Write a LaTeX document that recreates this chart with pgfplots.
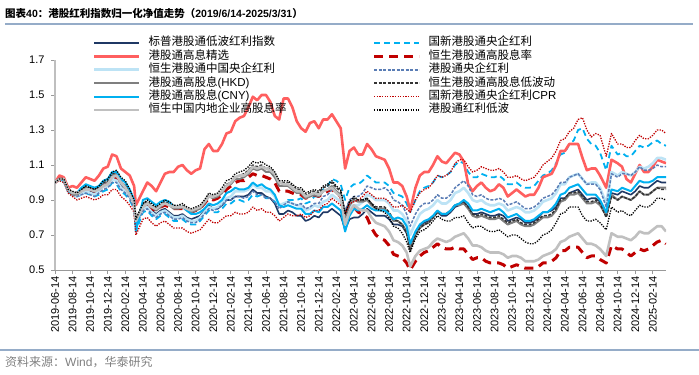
\documentclass[border=0pt]{standalone}
\usepackage{fontspec}
\setmainfont{Liberation Sans}
\newfontfamily\cjk{Noto Sans CJK SC}
\usepackage{pgfplots}
\usepackage{pgfplotstable}
\pgfplotsset{compat=1.18}
\definecolor{cNavy}{HTML}{1F3864}
\definecolor{cSalmon}{HTML}{FF5F5F}
\definecolor{cLtBlue}{HTML}{BDE3F5}
\definecolor{cGray}{HTML}{7F7F7F}
\definecolor{cBlue}{HTML}{00B0F0}
\definecolor{cLtGray}{HTML}{C0C0C0}
\definecolor{cDkRed}{HTML}{C00000}
\definecolor{cSteel}{HTML}{5A7DB5}
\definecolor{cDark}{HTML}{333333}
\definecolor{cRule}{HTML}{95ACC8}

\pgfplotstableread{
m A B C D E F G H I J K L
0 1.00 1.00 1.00 1.00 1.00 1.00 1.00 1.00 1.00 1.00 1.00 1.00
0.5 1.02 1.04 1.02 1.02 1.02 1.02 1.02 1.02 1.02 1.02 1.01 1.02
1 1.01 1.03 1.01 1.01 1.01 1.02 1.01 1.02 1.01 1.02 1.00 1.02
1.5 0.95 0.97 0.95 0.95 0.95 0.96 0.95 0.96 0.95 0.96 0.94 0.96
2 0.94 0.98 0.93 0.93 0.94 0.94 0.93 0.94 0.93 0.94 0.92 0.95
2.5 0.93 0.97 0.92 0.93 0.94 0.94 0.92 0.94 0.92 0.94 0.90 0.94
3 0.95 1.00 0.94 0.95 0.97 0.95 0.93 0.95 0.93 0.96 0.91 0.96
3.5 0.96 1.03 0.95 0.97 0.99 0.96 0.94 0.96 0.94 0.98 0.92 0.98
4 0.95 1.02 0.94 0.96 0.98 0.96 0.93 0.96 0.93 0.97 0.91 0.97
4.5 0.94 1.01 0.93 0.95 0.97 0.95 0.92 0.95 0.92 0.96 0.90 0.96
5 0.96 1.04 0.95 0.97 0.98 0.96 0.93 0.96 0.94 0.97 0.91 0.98
5.5 0.99 1.08 0.98 1.00 1.01 0.98 0.95 0.98 0.96 1.00 0.93 1.01
6 0.99 1.09 0.98 1.00 1.02 0.99 0.96 0.99 0.97 1.01 0.93 1.02
6.5 1.03 1.16 1.02 1.04 1.06 1.03 1.00 1.03 1.00 1.05 0.96 1.06
7 1.02 1.15 1.01 1.05 1.06 1.04 0.99 1.03 1.00 1.06 0.96 1.07
7.5 0.98 1.08 0.97 1.00 1.02 1.00 0.95 0.99 0.96 1.02 0.92 1.03
8 0.96 1.06 0.95 0.98 1.00 0.97 0.93 0.96 0.94 1.00 0.90 1.01
8.5 0.93 1.04 0.92 0.94 0.96 0.93 0.90 0.92 0.91 0.95 0.87 0.96
9 0.88 0.98 0.87 0.88 0.90 0.88 0.85 0.87 0.86 0.89 0.83 0.90
9.2 0.76 0.87 0.76 0.78 0.72 0.78 0.72 0.77 0.75 0.79 0.70 0.79
10 0.86 0.95 0.85 0.87 0.90 0.86 0.83 0.85 0.84 0.88 0.79 0.88
10.5 0.87 1.00 0.86 0.88 0.91 0.88 0.84 0.87 0.85 0.89 0.80 0.90
11 0.84 0.98 0.83 0.86 0.89 0.86 0.81 0.85 0.82 0.87 0.77 0.88
11.5 0.82 0.95 0.81 0.84 0.87 0.85 0.79 0.84 0.80 0.85 0.75 0.86
12 0.84 1.00 0.83 0.86 0.89 0.87 0.81 0.86 0.82 0.87 0.77 0.88
12.5 0.85 1.05 0.84 0.88 0.90 0.88 0.82 0.87 0.83 0.89 0.78 0.90
13 0.83 1.06 0.82 0.87 0.89 0.87 0.80 0.86 0.81 0.88 0.76 0.89
13.5 0.81 1.06 0.80 0.85 0.86 0.86 0.78 0.85 0.79 0.86 0.74 0.87
14 0.81 1.09 0.80 0.85 0.86 0.86 0.78 0.85 0.79 0.86 0.74 0.87
14.5 0.82 1.10 0.81 0.86 0.86 0.86 0.79 0.85 0.80 0.87 0.74 0.88
15 0.80 1.07 0.79 0.84 0.84 0.85 0.77 0.84 0.78 0.85 0.72 0.86
15.5 0.79 1.05 0.78 0.83 0.82 0.84 0.76 0.83 0.77 0.84 0.71 0.85
16 0.80 1.07 0.78 0.84 0.82 0.85 0.76 0.84 0.77 0.85 0.72 0.86
16.5 0.81 1.08 0.80 0.85 0.83 0.86 0.78 0.85 0.79 0.86 0.73 0.87
17 0.84 1.19 0.83 0.88 0.85 0.89 0.81 0.88 0.82 0.89 0.76 0.90
17.5 0.87 1.22 0.86 0.92 0.88 0.92 0.84 0.91 0.85 0.93 0.79 0.94
18 0.85 1.18 0.85 0.91 0.87 0.92 0.83 0.90 0.84 0.92 0.77 0.93
18.5 0.85 1.18 0.86 0.92 0.88 0.93 0.83 0.91 0.85 0.93 0.77 0.94
19 0.87 1.22 0.88 0.94 0.90 0.95 0.85 0.93 0.87 0.95 0.79 0.97
19.5 0.90 1.28 0.91 0.98 0.94 0.98 0.88 0.96 0.90 0.99 0.81 1.01
20 0.90 1.29 0.92 0.99 0.95 1.00 0.88 0.98 0.90 1.00 0.81 1.02
20.5 0.92 1.35 0.95 1.02 0.97 1.03 0.90 1.00 0.92 1.03 0.83 1.05
21 0.92 1.37 0.95 1.02 0.96 1.04 0.90 1.01 0.92 1.04 0.82 1.06
21.5 0.92 1.38 0.95 1.03 0.96 1.04 0.89 1.01 0.91 1.05 0.82 1.07
22 0.93 1.43 0.96 1.05 0.97 1.06 0.90 1.03 0.92 1.07 0.83 1.09
22.5 0.96 1.49 0.99 1.08 1.00 1.09 0.93 1.05 0.95 1.10 0.86 1.12
23 0.94 1.47 0.97 1.07 0.98 1.08 0.92 1.04 0.93 1.09 0.84 1.11
23.5 0.94 1.50 0.97 1.08 0.99 1.09 0.93 1.04 0.93 1.10 0.85 1.12
24 0.92 1.50 0.95 1.06 0.97 1.08 0.91 1.03 0.91 1.08 0.83 1.10
24.5 0.91 1.46 0.95 1.06 0.96 1.07 0.91 1.02 0.91 1.08 0.83 1.09
25 0.88 1.38 0.92 1.03 0.93 1.05 0.89 1.00 0.89 1.05 0.81 1.06
25.5 0.82 1.36 0.87 0.98 0.87 1.00 0.86 0.95 0.85 1.00 0.78 1.01
26 0.82 1.48 0.88 0.98 0.86 0.99 0.88 0.95 0.87 1.00 0.80 1.01
26.5 0.84 1.48 0.89 0.98 0.87 0.99 0.90 0.95 0.89 1.00 0.82 1.01
27 0.83 1.43 0.88 0.96 0.86 0.97 0.90 0.94 0.88 0.98 0.81 0.99
27.5 0.81 1.35 0.87 0.94 0.85 0.95 0.90 0.93 0.87 0.96 0.81 0.97
28 0.81 1.31 0.87 0.94 0.85 0.95 0.91 0.93 0.88 0.96 0.82 0.97
28.5 0.78 1.29 0.84 0.91 0.82 0.92 0.88 0.91 0.85 0.93 0.80 0.94
29 0.79 1.34 0.85 0.92 0.82 0.93 0.89 0.92 0.86 0.94 0.81 0.95
29.5 0.81 1.35 0.87 0.93 0.84 0.94 0.92 0.93 0.88 0.95 0.84 0.96
30 0.80 1.31 0.86 0.92 0.83 0.93 0.92 0.92 0.88 0.94 0.84 0.95
30.5 0.83 1.36 0.89 0.95 0.86 0.95 0.96 0.94 0.92 0.97 0.87 0.98
31 0.83 1.36 0.90 0.96 0.86 0.96 0.98 0.95 0.93 0.98 0.88 0.99
31.5 0.85 1.39 0.93 0.98 0.88 0.97 1.02 0.96 0.96 1.00 0.91 1.01
32 0.83 1.35 0.91 0.95 0.86 0.94 1.01 0.94 0.95 0.97 0.89 0.98
32.5 0.81 1.31 0.89 0.93 0.84 0.92 0.99 0.92 0.93 0.95 0.87 0.96
33 0.73 1.08 0.80 0.80 0.72 0.76 0.90 0.78 0.84 0.82 0.82 0.82
33.5 0.79 1.18 0.86 0.87 0.81 0.83 0.97 0.84 0.90 0.89 0.88 0.89
34 0.80 1.20 0.87 0.90 0.85 0.87 0.99 0.86 0.92 0.91 0.89 0.92
34.5 0.80 1.16 0.87 0.89 0.84 0.85 0.99 0.83 0.92 0.90 0.90 0.90
35 0.82 1.16 0.89 0.89 0.85 0.84 1.01 0.82 0.94 0.90 0.92 0.90
35.5 0.85 1.22 0.93 0.90 0.87 0.84 1.04 0.80 0.98 0.91 0.95 0.91
36 0.83 1.19 0.92 0.87 0.85 0.80 1.02 0.74 0.97 0.88 0.93 0.88
36.5 0.81 1.15 0.90 0.85 0.84 0.77 1.00 0.70 0.96 0.86 0.91 0.85
37 0.81 1.14 0.90 0.85 0.84 0.76 1.00 0.68 0.96 0.86 0.91 0.84
37.5 0.81 1.13 0.90 0.85 0.84 0.75 1.00 0.67 0.97 0.86 0.91 0.83
38 0.79 1.08 0.88 0.82 0.82 0.72 0.98 0.64 0.95 0.83 0.89 0.80
38.5 0.76 1.00 0.84 0.78 0.79 0.67 0.94 0.59 0.90 0.79 0.86 0.75
39 0.76 1.00 0.84 0.78 0.80 0.66 0.93 0.58 0.89 0.78 0.86 0.74
39.5 0.75 0.98 0.82 0.76 0.79 0.64 0.92 0.57 0.87 0.76 0.87 0.71
40 0.71 0.92 0.78 0.72 0.75 0.60 0.88 0.54 0.82 0.71 0.85 0.66
40.4 0.63 0.84 0.70 0.62 0.65 0.52 0.83 0.50 0.75 0.61 0.83 0.60
41 0.70 0.97 0.77 0.70 0.72 0.58 0.90 0.55 0.82 0.70 0.90 0.68
41.5 0.75 1.04 0.82 0.74 0.76 0.61 0.95 0.58 0.86 0.74 0.94 0.72
42 0.77 1.06 0.84 0.76 0.78 0.62 0.97 0.60 0.88 0.76 0.96 0.73
42.5 0.78 1.06 0.85 0.77 0.79 0.63 0.98 0.61 0.88 0.77 0.97 0.75
43 0.80 1.10 0.87 0.80 0.81 0.66 1.00 0.63 0.90 0.80 1.00 0.78
43.5 0.83 1.15 0.90 0.83 0.84 0.68 1.04 0.65 0.93 0.83 1.04 0.81
44 0.81 1.12 0.88 0.82 0.82 0.67 1.03 0.63 0.91 0.82 1.03 0.79
44.5 0.81 1.11 0.88 0.82 0.82 0.66 1.04 0.62 0.91 0.82 1.04 0.78
45 0.83 1.14 0.90 0.84 0.84 0.67 1.06 0.62 0.93 0.84 1.06 0.78
45.5 0.86 1.17 0.94 0.87 0.87 0.69 1.10 0.63 0.97 0.87 1.11 0.80
46 0.87 1.16 0.95 0.87 0.88 0.70 1.12 0.62 0.99 0.88 1.13 0.80
46.5 0.89 1.12 0.97 0.88 0.90 0.71 1.11 0.62 1.01 0.89 1.13 0.81
47 0.86 0.99 0.94 0.85 0.88 0.68 1.06 0.59 0.98 0.86 1.09 0.77
47.5 0.82 0.95 0.90 0.81 0.84 0.64 1.03 0.56 0.93 0.82 1.06 0.74
48 0.82 0.98 0.89 0.80 0.84 0.64 1.03 0.57 0.92 0.81 1.07 0.75
48.5 0.83 1.00 0.90 0.81 0.85 0.63 1.05 0.57 0.93 0.82 1.09 0.75
49 0.82 0.97 0.88 0.80 0.84 0.61 1.04 0.55 0.91 0.81 1.08 0.73
49.5 0.81 0.95 0.87 0.79 0.83 0.60 1.03 0.54 0.90 0.80 1.07 0.72
50 0.81 0.96 0.87 0.79 0.84 0.60 1.03 0.54 0.90 0.80 1.07 0.72
50.5 0.82 0.99 0.88 0.80 0.85 0.60 1.04 0.54 0.91 0.81 1.08 0.73
51 0.81 0.97 0.87 0.78 0.83 0.59 1.02 0.53 0.90 0.79 1.06 0.71
51.5 0.78 0.92 0.84 0.76 0.80 0.57 0.99 0.51 0.87 0.77 1.03 0.69
52 0.79 0.94 0.85 0.77 0.81 0.58 0.99 0.52 0.88 0.78 1.03 0.70
52.5 0.80 0.96 0.86 0.78 0.82 0.58 1.00 0.53 0.89 0.79 1.04 0.70
53 0.79 0.94 0.85 0.76 0.80 0.57 0.98 0.52 0.87 0.77 1.02 0.68
53.5 0.77 0.92 0.83 0.75 0.78 0.55 0.97 0.51 0.85 0.76 1.01 0.66
54 0.77 0.93 0.83 0.75 0.78 0.55 0.97 0.51 0.85 0.76 1.02 0.65
54.5 0.78 0.93 0.84 0.76 0.79 0.55 0.98 0.51 0.86 0.77 1.03 0.65
55 0.80 0.97 0.86 0.78 0.81 0.56 1.01 0.52 0.88 0.79 1.06 0.67
55.5 0.83 1.03 0.89 0.80 0.83 0.58 1.04 0.54 0.91 0.81 1.10 0.70
56 0.83 1.04 0.90 0.80 0.83 0.59 1.05 0.54 0.92 0.81 1.12 0.71
56.5 0.84 1.05 0.91 0.81 0.85 0.60 1.07 0.55 0.93 0.82 1.14 0.73
57 0.86 1.10 0.94 0.84 0.88 0.62 1.11 0.57 0.96 0.85 1.18 0.77
57.5 0.91 1.18 0.99 0.89 0.93 0.66 1.16 0.61 1.00 0.90 1.24 0.82
58 0.91 1.18 0.99 0.90 0.94 0.67 1.17 0.61 1.00 0.91 1.25 0.83
58.5 0.94 1.22 1.03 0.93 0.97 0.69 1.22 0.63 1.03 0.94 1.29 0.86
59 0.95 1.22 1.04 0.93 0.98 0.70 1.24 0.63 1.04 0.94 1.31 0.86
59.5 0.96 1.22 1.05 0.94 0.99 0.71 1.30 0.63 1.05 0.95 1.36 0.86
60 0.93 1.14 1.02 0.91 0.96 0.68 1.31 0.60 1.02 0.92 1.37 0.81
60.5 0.90 1.07 0.99 0.88 0.93 0.65 1.25 0.57 0.99 0.89 1.30 0.78
61 0.91 1.08 1.00 0.88 0.93 0.65 1.22 0.58 0.99 0.89 1.26 0.78
61.5 0.91 1.08 1.00 0.89 0.93 0.64 1.21 0.58 0.99 0.90 1.28 0.79
62 0.89 1.04 0.97 0.87 0.90 0.62 1.17 0.56 0.96 0.88 1.27 0.77
62.7 0.81 0.97 0.88 0.81 0.83 0.58 1.07 0.54 0.86 0.80 1.15 0.73
63.3 0.94 1.13 1.06 0.93 0.96 0.71 1.21 0.64 1.05 0.92 1.28 0.86
64 0.93 1.11 1.04 0.90 0.95 0.69 1.16 0.62 1.03 0.90 1.22 0.83
64.5 0.95 1.09 1.06 0.92 0.97 0.69 1.17 0.62 1.05 0.92 1.22 0.84
65 0.94 1.02 1.05 0.91 0.96 0.68 1.15 0.60 1.05 0.91 1.20 0.82
65.5 0.93 1.00 1.04 0.90 0.95 0.67 1.15 0.58 1.04 0.90 1.20 0.81
66 0.95 1.05 1.06 0.92 0.98 0.69 1.18 0.60 1.06 0.92 1.24 0.84
66.5 0.98 1.10 1.09 0.95 1.01 0.72 1.21 0.62 1.09 0.95 1.27 0.87
67 0.97 1.06 1.08 0.93 1.00 0.71 1.20 0.61 1.07 0.93 1.25 0.86
67.5 0.97 1.06 1.09 0.93 1.00 0.71 1.21 0.62 1.07 0.93 1.25 0.86
68 0.99 1.09 1.11 0.95 1.01 0.73 1.23 0.64 1.08 0.95 1.27 0.88
68.5 1.01 1.13 1.14 0.97 1.03 0.75 1.24 0.66 1.10 0.97 1.30 0.91
69 1.00 1.12 1.14 0.97 1.03 0.75 1.22 0.67 1.09 0.96 1.30 0.91
69.5 1.00 1.11 1.13 0.97 1.03 0.72 1.21 0.65 1.09 0.96 1.28 0.90
}\datatab

\begin{document}
\begin{tikzpicture}
\useasboundingbox (0bp,0bp) rectangle (699bp,375bp);
\node[anchor=west, inner sep=0pt, font=\fontsize{10.5bp}{12bp}\selectfont\bfseries] at (5bp,361bp) {{\cjk 图表}40{\cjk ：港股红利指数归一化净值走势（}2019/6/14-2025/3/31{\cjk ）}};
\draw[cRule, line width=1.5bp] (5bp,351bp) -- (693bp,351bp);
\draw[cRule, line width=1.5bp] (0bp,25bp) -- (699bp,25bp);
\node[anchor=west, inner sep=0pt, text=gray, font=\fontsize{12bp}{14bp}\selectfont] at (5bp,13bp) {{\cjk 资料来源：}Wind{\cjk ，华泰研究}};
\begin{axis}[
  at={(55bp,105bp)}, anchor=south west,
  scale only axis, width=611bp, height=210bp,
  xmin=0, xmax=69.5, ymin=0.5, ymax=1.7,
  axis x line*=bottom, axis y line*=left,
  axis line style={draw=gray!75, line width=1bp},
  x axis line style={draw=gray!80, line width=0.8bp},
  y axis line style={draw=gray!50, line width=1.8bp},
  tick style={draw=gray!80, line width=0.7bp},
  major tick length=4bp, tick align=outside,
  xtick={0,2,...,68},
  xticklabels={2019-06-14,2019-08-14,2019-10-14,2019-12-14,2020-02-14,2020-04-14,2020-06-14,2020-08-14,2020-10-14,2020-12-14,2021-02-14,2021-04-14,2021-06-14,2021-08-14,2021-10-14,2021-12-14,2022-02-14,2022-04-14,2022-06-14,2022-08-14,2022-10-14,2022-12-14,2023-02-14,2023-04-14,2023-06-14,2023-08-14,2023-10-14,2023-12-14,2024-02-14,2024-04-14,2024-06-14,2024-08-14,2024-10-14,2024-12-14,2025-02-14},
  xticklabel style={rotate=90, anchor=east, font=\fontsize{11bp}{11bp}\selectfont, inner sep=2bp},
  ytick={0.5,0.7,0.9,1.1,1.3,1.5,1.7},
  yticklabel style={font=\fontsize{11bp}{11bp}\selectfont, /pgf/number format/fixed, /pgf/number format/fixed zerofill, /pgf/number format/precision=1, xshift=-3bp},
  /pgf/number format/assume math mode=true,
  legend columns=2,
  legend cell align=left,
  legend image code/.code={\draw[#1] (0bp,0bp) -- (45bp,0bp);},
  legend style={at={(0.0622,1.1124)}, anchor=north west, draw=none, fill=none, inner sep=0pt, outer sep=0pt,
    row sep=0.2bp,
    font=\fontsize{11.5bp}{13bp}\selectfont,
    nodes={inner sep=1bp, text height=8.6bp, text depth=2.6bp},
    /tikz/every odd column/.append style={column sep=7bp},
    /tikz/every even column/.append style={column sep=8bp, text width=215bp}},
  every axis plot/.append style={line join=round},
]
\addplot[draw=cNavy, line width=1.6bp] table[x=m,y=A]{\datatab};
\addlegendentry{{\cjk 标普港股通低波红利指数}}
\addplot[draw=cBlue, line width=1.8bp, dash pattern=on 6bp off 4bp] table[x=m,y=G]{\datatab};
\addlegendentry{{\cjk 国新港股通央企红利}}
\addplot[draw=cSalmon, line width=2.6bp] table[x=m,y=B]{\datatab};
\addlegendentry{{\cjk 港股通高息精选}}
\addplot[draw=cDkRed, line width=3bp, dash pattern=on 9bp off 6bp] table[x=m,y=H]{\datatab};
\addlegendentry{{\cjk 恒生港股通高股息率}}
\addplot[draw=cLtBlue, line width=2.6bp] table[x=m,y=C]{\datatab};
\addlegendentry{{\cjk 恒生港股通中国央企红利}}
\addplot[draw=cSteel, line width=1.5bp, dash pattern=on 3bp off 1.5bp] table[x=m,y=I]{\datatab};
\addlegendentry{{\cjk 港股通央企红利}}
\addplot[draw=cGray, line width=2bp] table[x=m,y=D]{\datatab};
\addlegendentry{{\cjk 港股通高股息}(HKD)}
\addplot[draw=cDark, line width=1.5bp, dash pattern=on 3bp off 1.5bp] table[x=m,y=J]{\datatab};
\addlegendentry{{\cjk 恒生港股通高股息低波动}}
\addplot[draw=cBlue, line width=2bp] table[x=m,y=E]{\datatab};
\addlegendentry{{\cjk 港股通高股息}(CNY)}
\addplot[draw=cDkRed, line width=1.3bp, dash pattern=on 1.3bp off 1.3bp] table[x=m,y=K]{\datatab};
\addlegendentry{{\cjk 国新港股通央企红利}CPR}
\addplot[draw=cLtGray, line width=2.6bp] table[x=m,y=F]{\datatab};
\addlegendentry{{\cjk 恒生中国内地企业高股息率}}
\addplot[draw=black, line width=1.3bp, dash pattern=on 1.3bp off 1.3bp] table[x=m,y=L]{\datatab};
\addlegendentry{{\cjk 港股通红利低波}}
\end{axis}
\end{tikzpicture}
\end{document}
